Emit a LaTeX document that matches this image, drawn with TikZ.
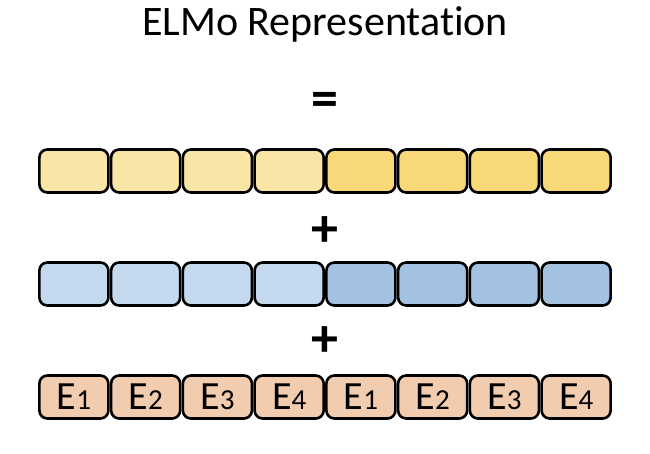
\documentclass[tikz,border=0pt]{standalone}
\usepackage{fontspec}
\setmainfont{Carlito}[Ligatures=NoCommon]
\usetikzlibrary{positioning}
\definecolor{elmoyel}{HTML}{F9E5A6}
\definecolor{elmoyeldk}{HTML}{F9D877}
\definecolor{elmoblu}{HTML}{C5D9EE}
\definecolor{elmobludk}{HTML}{A3C2E2}
\definecolor{elmoorg}{HTML}{F2CCAF}
\tikzset{
  tok/.style={rounded corners=8pt, draw=black, line width=2.6pt, fill=#1,
              minimum width=69pt, minimum height=43pt, inner sep=0pt,
              font=\fontsize{40}{44}\selectfont},
  opsym/.style={font=\fontsize{54}{58}\selectfont\bfseries, inner sep=0pt},
}
\newcommand{\emb}[1]{E{\fontsize{29}{32}\selectfont #1}}

\begin{document}
\begin{tikzpicture}[x=1pt,y=-1pt]
  \useasboundingbox (0,0) rectangle (650,454);
  \node[font=\fontsize{42}{46}\selectfont] (title) at (325,24) {ELMo Representation};
  \node[opsym] (eq) at (325,104) {=};
  \node[opsym] (plusa) at (325,232) {+};
  \node[opsym] (plusb) at (325,342) {+};
  % three rows of token vectors
  \foreach \i in {1,...,8} {
    \ifnum\i<5 \def\ycol{elmoyel}\def\bcol{elmoblu}\else\def\ycol{elmoyeldk}\def\bcol{elmobludk}\fi
    \node[tok=\ycol] (top\i) at ({38+71.75*(\i-0.5)},171) {};
    \node[tok=\bcol] (mid\i) at ({38+71.75*(\i-0.5)},284) {};
  }
  \foreach \i in {1,...,8} {
    \pgfmathtruncatemacro{\k}{mod(\i-1,4)+1}
    \node[tok=elmoorg] (bot\i) at ({38+71.75*(\i-0.5)},397) {\emb{\k}};
  }
\end{tikzpicture}
\end{document}
